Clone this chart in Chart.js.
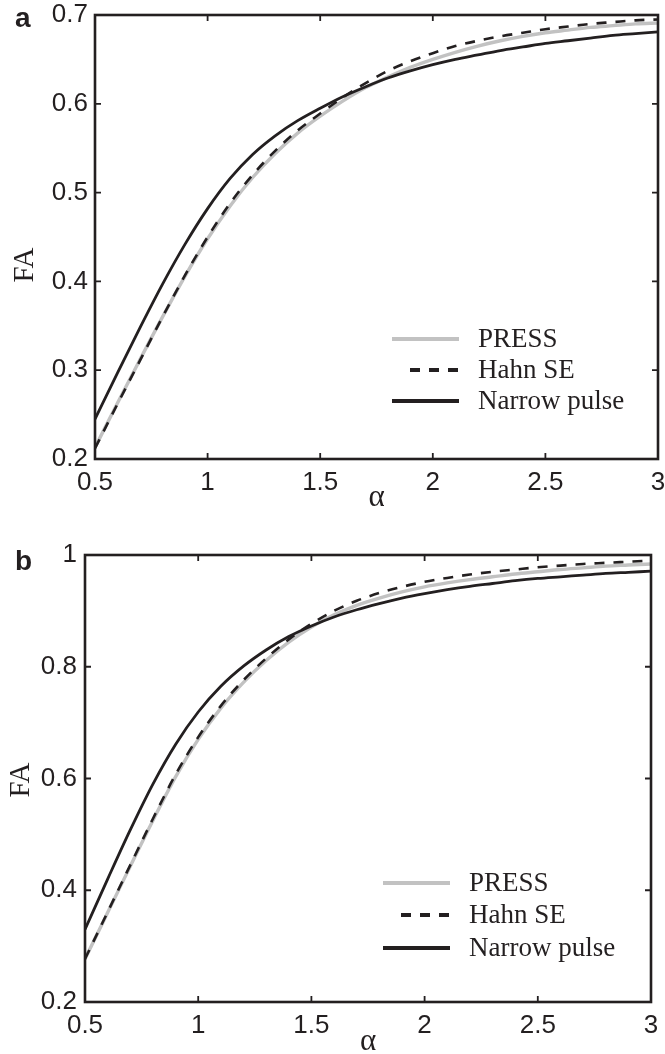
<!DOCTYPE html>
<html><head><meta charset="utf-8">
<script src="https://cdn.jsdelivr.net/npm/chart.js@4.4.1/dist/chart.umd.min.js"></script>
<style>
html,body{margin:0;padding:0;background:#fff;}
#wrap{position:relative;width:665px;height:1054px;overflow:hidden;}
.panel{position:absolute;left:0;width:665px;height:527px;}
</style></head><body>
<div id="wrap">
<div class="panel" style="top:0"><canvas id="ca"></canvas></div>
<div class="panel" style="top:527px"><canvas id="cb"></canvas></div>
</div>
<script>
// ---- data ----
const alphaValues = [0.5,0.6,0.7,0.8,0.9,1.0,1.1,1.2,1.3,1.4,1.5,1.6,1.7,1.8,1.9,2.0,2.1,2.2,2.3,2.4,2.5,2.6,2.7,2.8,2.9,3.0];
const seriesNames = ['PRESS','Hahn SE','Narrow pulse'];

const pressA   = [0.213,0.263,0.312,0.360,0.406,0.448,0.485,0.517,0.544,0.567,0.586,0.603,0.618,0.630,0.641,0.650,0.658,0.665,0.671,0.676,0.680,0.683,0.686,0.688,0.690,0.691];
const hahnA    = [0.212,0.262,0.311,0.360,0.407,0.450,0.488,0.520,0.547,0.570,0.589,0.607,0.623,0.637,0.648,0.657,0.665,0.671,0.676,0.680,0.684,0.687,0.690,0.692,0.694,0.695];
const narrowA  = [0.245,0.297,0.348,0.397,0.442,0.482,0.516,0.543,0.564,0.581,0.595,0.608,0.619,0.629,0.637,0.644,0.650,0.655,0.660,0.664,0.668,0.671,0.674,0.677,0.679,0.681];

const pressB   = [0.277,0.360,0.443,0.525,0.603,0.670,0.726,0.772,0.811,0.844,0.871,0.893,0.910,0.923,0.934,0.943,0.950,0.956,0.961,0.966,0.970,0.974,0.977,0.980,0.982,0.984];
const hahnB    = [0.277,0.361,0.445,0.528,0.607,0.674,0.730,0.776,0.815,0.849,0.877,0.900,0.918,0.932,0.943,0.952,0.959,0.965,0.970,0.974,0.978,0.981,0.984,0.986,0.988,0.990];
const narrowB  = [0.330,0.420,0.508,0.590,0.661,0.719,0.765,0.801,0.830,0.854,0.873,0.889,0.902,0.913,0.923,0.931,0.938,0.944,0.949,0.954,0.958,0.961,0.964,0.967,0.969,0.971];

const xTickValues = [0.5,1,1.5,2,2.5,3];
const xTickLabels = ['0.5','1','1.5','2','2.5','3'];
const yTickValuesA = [0.2,0.3,0.4,0.5,0.6,0.7];
const yTickLabelsA = ['0.2','0.3','0.4','0.5','0.6','0.7'];
const yTickValuesB = [0.2,0.4,0.6,0.8,1.0];
const yTickLabelsB = ['0.2','0.4','0.6','0.8','1'];
const xTitle = 'α';
const yTitle = 'FA';

// ---- styles ----
const INK = '#231f20';
const GREY = '#c2c2c2';
const SANS = '"Liberation Sans", Arial, Helvetica, sans-serif';
const SERIF = '"Liberation Serif", "Times New Roman", serif';

const decorPlugin = {
  id: 'decor',
  afterDatasetsDraw(chart, args, o) {
    const {ctx, chartArea: ca, scales} = chart;
    ctx.save();
    // inward ticks on all four sides
    ctx.strokeStyle = INK; ctx.lineWidth = 1.8;
    const tl = 6;
    ctx.beginPath();
    scales.x.ticks.forEach(t => {
      const px = scales.x.getPixelForValue(t.value);
      ctx.moveTo(px, ca.bottom); ctx.lineTo(px, ca.bottom - tl);
      ctx.moveTo(px, ca.top); ctx.lineTo(px, ca.top + tl);
    });
    scales.y.ticks.forEach(t => {
      const py = scales.y.getPixelForValue(t.value);
      ctx.moveTo(ca.left, py); ctx.lineTo(ca.left + tl, py);
      ctx.moveTo(ca.right, py); ctx.lineTo(ca.right - tl, py);
    });
    ctx.stroke();
    // frame
    ctx.lineWidth = 2.6;
    ctx.strokeRect(ca.left, ca.top, ca.right - ca.left, ca.bottom - ca.top);
    // legend
    const L = o.legend;
    chart.data.datasets.forEach((ds, i) => {
      const y = L.rows[i];
      ctx.save();
      ctx.strokeStyle = ds.borderColor;
      ctx.lineWidth = L.lineWidth;
      ctx.setLineDash(ds.borderDash || []);
      ctx.beginPath();
      ctx.moveTo(L.x1 + (ds.borderDash && ds.borderDash.length ? L.dashInset : 0), y);
      ctx.lineTo(L.x2, y);
      ctx.stroke();
      ctx.restore();
      ctx.fillStyle = INK;
      ctx.font = '27px ' + SERIF;
      ctx.textAlign = 'left';
      ctx.textBaseline = 'middle';
      ctx.fillText(ds.label, L.textX, y + 1);
    });
    // y title
    ctx.save();
    ctx.translate(o.faX, o.faY);
    ctx.rotate(-Math.PI / 2);
    ctx.font = '29px ' + SERIF;
    ctx.fillStyle = INK;
    ctx.textAlign = 'center';
    ctx.textBaseline = 'middle';
    ctx.fillText(o.yTitle, 0, 0);
    ctx.restore();
    // panel letter
    ctx.font = 'bold 28px ' + SANS;
    ctx.fillStyle = INK;
    ctx.textAlign = 'left';
    ctx.textBaseline = 'alphabetic';
    ctx.fillText(o.letter, o.letterX, o.letterY);
    ctx.restore();
  }
};

function makePanel(id, g) {
  const mk = (vals) => alphaValues.map((a, i) => ({x: a, y: vals[i]}));
  return new Chart(document.getElementById(id), {
    type: 'line',
    data: {
      datasets: [
        {label: seriesNames[0], data: mk(g.press), borderColor: GREY, borderWidth: 3.4, order: 3},
        {label: seriesNames[1], data: mk(g.hahn), borderColor: INK, borderWidth: 2.6, borderDash: [10, 9], order: 1},
        {label: seriesNames[2], data: mk(g.narrow), borderColor: INK, borderWidth: 2.8, order: 2}
      ]
    },
    options: {
      responsive: true,
      maintainAspectRatio: false,
      animation: false,
      events: [],
      elements: {point: {radius: 0}, line: {cubicInterpolationMode: 'monotone', fill: false}},
      layout: {padding: {left: 0, top: g.top, right: g.right, bottom: 0}},
      plugins: {
        legend: {display: false},
        tooltip: {enabled: false},
        decor: {legend: g.legend, faX: g.faX, faY: g.faY, yTitle: yTitle, letter: g.letter, letterX: g.letterX, letterY: g.letterY}
      },
      scales: {
        x: {
          type: 'linear', position: 'bottom', min: 0.5, max: 3,
          grid: {display: false, drawTicks: false},
          border: {display: false},
          afterBuildTicks: s => { s.ticks = xTickValues.map(v => ({value: v})); },
          afterFit: s => { s.height = g.xHeight; s.paddingLeft = 0; s.paddingRight = 0; },
          ticks: {
            padding: 8, color: INK, maxRotation: 0, autoSkip: false,
            font: {family: SANS, size: 26},
            callback: (v) => { const i = xTickValues.indexOf(v); return i >= 0 ? xTickLabels[i] : ''; }
          },
          title: {display: true, text: xTitle, color: INK, font: {family: SERIF, size: 31, lineHeight: 0.8}, padding: {top: 0, bottom: g.titlePad}}
        },
        y: {
          type: 'linear', min: g.yMin, max: g.yMax,
          grid: {display: false, drawTicks: false},
          border: {display: false},
          afterBuildTicks: s => { s.ticks = g.yTicks.map(v => ({value: v})); },
          afterFit: s => { s.width = g.yWidth; s.paddingTop = 0; s.paddingBottom = 0; },
          ticks: {
            padding: g.yPad, color: INK, autoSkip: false,
            font: {family: SANS, size: 26},
            callback: (v) => { const i = g.yTicks.indexOf(v); return i >= 0 ? g.yLabels[i] : ''; }
          }
        }
      }
    },
    plugins: [decorPlugin]
  });
}

makePanel('ca', {
  press: pressA, hahn: hahnA, narrow: narrowA,
  yMin: 0.2, yMax: 0.7, yTicks: yTickValuesA, yLabels: yTickLabelsA,
  top: 15, right: 7, yWidth: 95, xHeight: 68, yPad: 7, titlePad: 17,
  legend: {x1: 392, x2: 459, dashInset: 18, textX: 478, rows: [339, 370, 401], lineWidth: 4},
  faX: 25, faY: 265, letter: 'a', letterX: 15, letterY: 27
});
makePanel('cb', {
  press: pressB, hahn: hahnB, narrow: narrowB,
  yMin: 0.2, yMax: 1.0, yTicks: yTickValuesB, yLabels: yTickLabelsB,
  top: 28, right: 14, yWidth: 85, xHeight: 52, yPad: 8, titlePad: 0,
  legend: {x1: 383, x2: 450, dashInset: 18, textX: 469, rows: [356, 388, 421], lineWidth: 4},
  faX: 21, faY: 253, letter: 'b', letterX: 15, letterY: 43
});
</script>
</body></html>
